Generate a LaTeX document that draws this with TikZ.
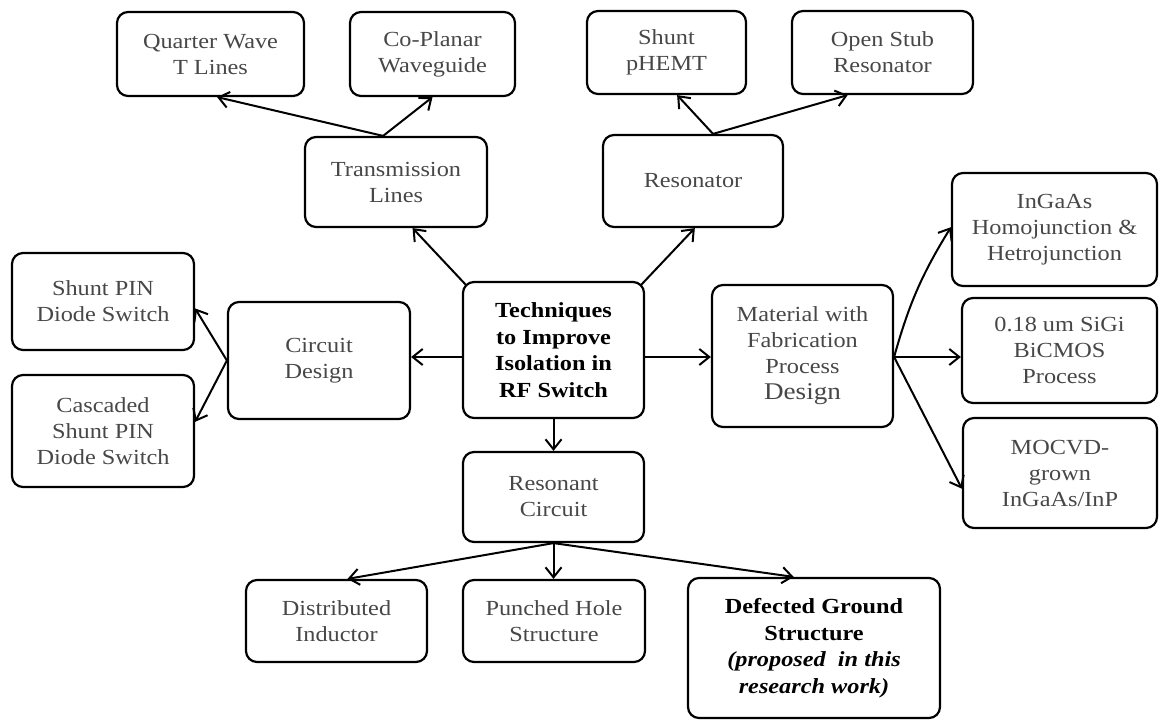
\documentclass[tikz,border=0pt]{standalone}
\usepackage{fontspec}
\setmainfont{Liberation Serif}[FakeStretch=1.13]
\usetikzlibrary{arrows.meta,calc}
\tikzset{
  box/.style={draw, line width=2.2pt, rounded corners=11pt, align=center, inner sep=2pt,
    font=\fontsize{21.5}{26}\selectfont, text=black!72},
  boldbox/.style={box, text=black, font=\fontsize{21.5}{26.5}\selectfont\bfseries},
  arr/.style={line width=2pt, -{Straight Barb[length=10pt,width=16pt,line width=2pt]}},
}
\begin{document}
\begin{tikzpicture}[x=1pt,y=-1pt]
\useasboundingbox (0,0) rectangle (1161,722);
% boxes
\node[box, minimum width=187pt, minimum height=84pt] (qw) at (210.5,54) {Quarter Wave\\T Lines};
\node[box, minimum width=165pt, minimum height=84pt] (cp) at (432.5,54) {Co-Planar\\Waveguide};
\node[box, minimum width=159pt, minimum height=83pt] (ph) at (666.5,52.5) {Shunt\\pHEMT};
\node[box, minimum width=181pt, minimum height=83pt] (os) at (882.5,52.5) {Open Stub\\Resonator};
\node[box, minimum width=182pt, minimum height=90pt] (tl) at (396,182) {Transmission\\Lines};
\node[box, minimum width=180pt, minimum height=92pt] (res) at (693,181) {Resonator};
\node[box, minimum width=205pt, minimum height=113pt] (ing) at (1054.5,229.5) {InGaAs\\Homojunction \&\\Hetrojunction};
\node[box, minimum width=182pt, minimum height=97pt] (spin) at (103,301.5) {Shunt PIN\\Diode Switch};
\node[box, minimum width=182pt, minimum height=117pt] (cd) at (319,360.5) {Circuit\\Design};
\node[boldbox, minimum width=181pt, minimum height=136pt] (tech) at (553.5,350) {Techniques\\to Improve\\Isolation in\\RF Switch};
\node[box, minimum width=181pt, minimum height=142pt] (mat) at (802.5,356) {Material with\\Fabrication\\Process\\{\fontsize{24}{26}\selectfont Design}};
\node[box, minimum width=195pt, minimum height=105pt] (sige) at (1059.5,350.5) {0.18 um SiGi\\BiCMOS\\Process};
\node[box, minimum width=182pt, minimum height=112pt] (casc) at (103,431) {Cascaded\\Shunt PIN\\Diode Switch};
\node[box, minimum width=181pt, minimum height=90pt] (rc) at (553.5,497) {Resonant\\Circuit};
\node[box, minimum width=194pt, minimum height=110pt] (moc) at (1060,473) {MOCVD-\\grown\\InGaAs/InP};
\node[box, minimum width=181pt, minimum height=82pt] (di) at (336.5,621) {Distributed\\Inductor};
\node[box, minimum width=182pt, minimum height=82pt] (phs) at (554,621) {Punched Hole\\Structure};
\node[boldbox, minimum width=252pt, minimum height=140pt] (dgs) at (814,648) {Defected Ground\\Structure\\\textit{(proposed\ \ in this}\\\textit{research work)}};
% connectors from the centre box
\draw[arr] ($(tech.north west)+(4,4)$) -- ($(tl.south west)!0.59!(tl.south east)$);
\draw[arr] ($(tech.north east)+(-4,4)$) -- ($(res.south west)!0.51!(res.south east)$);
\coordinate (tw) at ($(tech.west)+(0,7)$);
\coordinate (te) at ($(tech.east)+(0,7)$);
\draw[arr] (tw) -- (tw -| cd.east);
\draw[arr] (te) -- (te -| mat.west);
\draw[arr] (tech.south) -- (rc.north);
% transmission lines
\coordinate (tlt) at ($(tl.north west)!0.43!(tl.north east)$);
\draw[arr] (tlt) -- ($(qw.south west)!0.535!(qw.south east)$);
\draw[arr] (tlt) -- ($(cp.south west)!0.5!(cp.south east)$);
% resonator
\coordinate (rt) at ($(res.north west)!0.61!(res.north east)$);
\draw[arr] (rt) -- ($(ph.south west)!0.566!(ph.south east)$);
\draw[arr] (rt) -- ($(os.south west)!0.31!(os.south east)$);
% circuit design
\draw[arr] (cd.west) -- ($(spin.north east)!0.57!(spin.south east)$);
\draw[arr] (cd.west) -- ($(casc.north east)!0.42!(casc.south east)$);
% material
\coordinate (me) at ($(mat.east)+(0,1)$);
\draw[arr] (me) to[bend left=8] ($(ing.north west)!0.48!(ing.south west)$);
\draw[arr] (me) -- (me -| sige.west);
\draw[arr] (me) -- ($(moc.north west)!0.64!(moc.south west)$);
% resonant circuit
\draw[arr] (rc.south) -- ($(di.north west)!0.56!(di.north east)$);
\draw[arr] (rc.south) -- (rc.south |- phs.north);
\draw[arr] (rc.south) -- ($(dgs.north west)!0.42!(dgs.north east)$);
\end{tikzpicture}
\end{document}
